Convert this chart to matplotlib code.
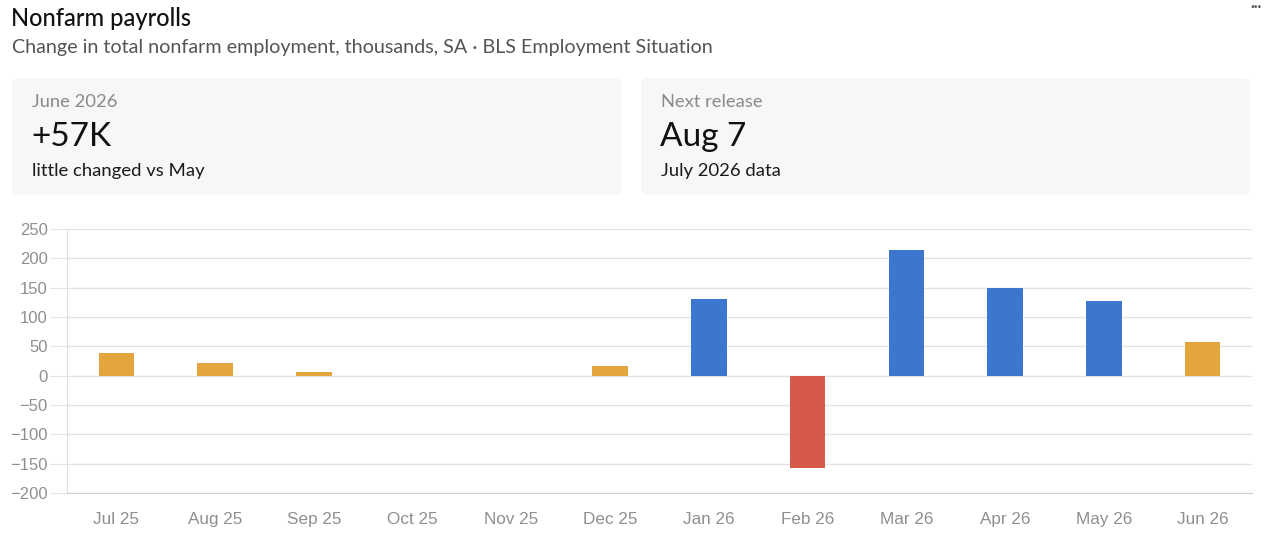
import matplotlib.pyplot as plt
from matplotlib.patches import FancyBboxPatch

W, H = 1266, 543

months = ["Jul 25", "Aug 25", "Sep 25", "Oct 25", "Nov 25", "Dec 25",
          "Jan 26", "Feb 26", "Mar 26", "Apr 26", "May 26", "Jun 26"]
change = [39, 22, 7, 0, 0, 17, 130, -158, 215, 149, 127, 57]
status = ["mid", "mid", "mid", "none", "none", "mid",
          "high", "low", "high", "high", "high", "mid"]
status_colors = {"mid": "#E4A43E", "high": "#3D76CD", "low": "#D55A4C", "none": "#ffffff"}
yticks = [-200, -150, -100, -50, 0, 50, 100, 150, 200, 250]

plt.rcParams['font.family'] = ['Lato', 'DejaVu Sans']

fig = plt.figure(figsize=(W / 100, H / 100), dpi=100)
fig.patch.set_facecolor("white")


def px(x, y):
    return x / W, 1 - y / H


fig.text(*px(11, 18), "Nonfarm payrolls", fontsize=17, color="#111111", va="center",
         fontweight="medium")
fig.text(*px(12, 47), "Change in total nonfarm employment, thousands, SA \u00b7 BLS Employment Situation",
         fontsize=14.2, color="#555555", va="center")
fig.text(*px(1256, 7), "\u00b7\u00b7\u00b7", fontsize=10, color="#555555", va="center", ha="center",
         fontweight="bold")

cards = [
    (12, 622, "June 2026", "+57K", "little changed vs May"),
    (641, 1250, "Next release", "Aug 7", "July 2026 data"),
]
for x0, x1, lab, big, note in cards:
    box = FancyBboxPatch(px(x0, 195), (x1 - x0) / W, 117 / H,
                         boxstyle="round,pad=0,rounding_size=0.008",
                         transform=fig.transFigure, facecolor="#f8f7f5",
                         edgecolor="none", zorder=0)
    fig.patches.append(box)
    fig.text(*px(x0 + 20, 102), lab, fontsize=13.2, color="#8a8a8a", va="center")
    fig.text(*px(x0 + 19, 137), big, fontsize=24, color="#111111", va="center")
    fig.text(*px(x0 + 20, 171), note, fontsize=13.3, color="#1a1a1a", va="center")

ax = fig.add_axes([67 / W, 50 / H, (1252 - 67) / W, (493 - 229) / H])
x = range(len(months))
ax.bar(x, change, width=0.36, color=[status_colors[s] for s in status], zorder=3)

ax.set_xlim(-0.5, len(months) - 0.5)
ax.set_ylim(-200, 250)
ax.set_yticks(yticks)
ax.set_xticks(list(x))
ax.set_xticklabels(months)
ax.grid(axis="y", color="#e3e3e3", linewidth=1, zorder=0)
for sp in ["top", "right"]:
    ax.spines[sp].set_visible(False)
ax.spines["left"].set_color("#e0e0e0")
ax.spines["bottom"].set_color("#cfcfcf")
ax.tick_params(axis="y", length=12, color="#e3e3e3", labelsize=12, labelcolor="#8f8f8f", pad=2)
ax.tick_params(axis="x", length=0, labelsize=12.3, labelcolor="#8f8f8f", pad=14)
for lbl in ax.get_xticklabels() + ax.get_yticklabels():
    lbl.set_family(["Liberation Sans", "DejaVu Sans"])

fig.savefig("out.png", dpi=100)
